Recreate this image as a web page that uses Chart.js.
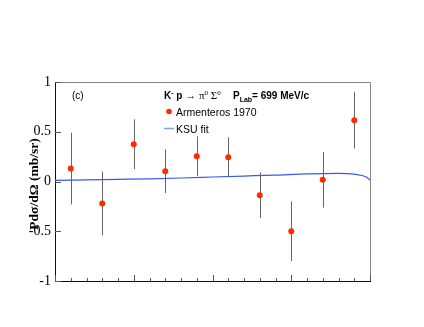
<!DOCTYPE html>
<html>
<head>
<meta charset="utf-8">
<script src="https://cdn.jsdelivr.net/npm/chart.js@4/dist/chart.umd.min.js"></script>
<style>
  html, body { margin: 0; padding: 0; background: #fff; }
  #wrap { width: 424px; height: 327px; }
</style>
</head>
<body>
<div id="wrap"><canvas id="c" width="424" height="327"></canvas></div>
<script>
// Armenteros 1970 data points (cos theta, P dsigma/dOmega, error)
const cosTheta = [-0.9, -0.7, -0.5, -0.3, -0.1, 0.1, 0.3, 0.5, 0.7, 0.9];
const polValues = [0.13, -0.22, 0.375, 0.104, 0.254, 0.244, -0.138, -0.5, 0.017, 0.616];
const polErrors = [0.36, 0.32, 0.25, 0.22, 0.2, 0.2, 0.23, 0.3, 0.28, 0.285];

// KSU fit curve
const fitX = [-1, -0.8, -0.6, -0.4, -0.2, 0, 0.2, 0.4, 0.6, 0.8, 0.9, 0.95, 0.98, 1.0];
const fitY = [0.012, 0.017, 0.022, 0.027, 0.035, 0.045, 0.055, 0.065, 0.077, 0.082, 0.075, 0.06, 0.042, 0.013];

const yTicks = [-1, -0.5, 0, 0.5, 1];

const serif = "'Liberation Serif', 'DejaVu Serif', serif";
const sans = "'Liberation Sans', Arial, sans-serif";

// error bars, inner ticks, frame and annotations
const decor = {
  id: "decor",
  beforeDatasetsDraw(chart) {
    const { ctx, chartArea: a, scales: { x, y } } = chart;
    ctx.save();
    // frame
    ctx.lineWidth = 1;
    ctx.strokeStyle = "#8a8080";
    ctx.beginPath();
    ctx.moveTo(a.left, a.top + 0.5);
    ctx.lineTo(a.right + 0.5, a.top + 0.5);
    ctx.lineTo(a.right + 0.5, a.bottom);
    ctx.stroke();
    ctx.strokeStyle = "#1a0a0a";
    ctx.beginPath();
    ctx.moveTo(a.left + 0.5, a.top);
    ctx.lineTo(a.left + 0.5, a.bottom + 0.5);
    ctx.lineTo(a.right + 1, a.bottom + 0.5);
    ctx.stroke();
    // x ticks (inside)
    ctx.strokeStyle = "#555";
    for (let i = -10; i <= 10; i++) {
      const px = Math.round(x.getPixelForValue(i / 10)) + 0.5;
      const len = i % 5 === 0 ? 6 : 3;
      ctx.beginPath();
      ctx.moveTo(px, a.bottom);
      ctx.lineTo(px, a.bottom - len);
      ctx.stroke();
    }
    // y ticks (inside)
    yTicks.forEach((v) => {
      const py = Math.round(y.getPixelForValue(v)) + 0.5;
      ctx.beginPath();
      ctx.moveTo(a.left, py);
      ctx.lineTo(a.left + 6, py);
      ctx.stroke();
    });
    // error bars
    ctx.strokeStyle = "#666";
    cosTheta.forEach((c, i) => {
      const px = Math.round(x.getPixelForValue(c)) + 0.5;
      ctx.beginPath();
      ctx.moveTo(px, y.getPixelForValue(polValues[i] + polErrors[i]));
      ctx.lineTo(px, y.getPixelForValue(polValues[i] - polErrors[i]));
      ctx.stroke();
    });
    ctx.restore();
  },
  afterDraw(chart) {
    const { ctx } = chart;
    ctx.save();
    ctx.fillStyle = "#000";
    ctx.textBaseline = "alphabetic";
    // (c)
    ctx.font = "10px " + sans;
    ctx.fillText("(c)", 72, 99);
    // header
    let cx = 164;
    const put = (t, font, dy) => {
      ctx.font = font;
      ctx.fillText(t, cx, 99 + (dy || 0));
      cx += ctx.measureText(t).width;
    };
    put("K", "bold 10px " + sans);
    put("-", "bold 7px " + sans, -4);
    put(" p ", "bold 10px " + sans);
    put("\u2192", "11px " + serif);
    put(" \u03c0", "11px " + serif);
    put("0", "7px " + serif, -4);
    put(" \u03a3", "11px " + serif);
    put("0", "7px " + serif, -4);
    cx = 233;
    put("P", "bold 10px " + sans);
    put("Lab", "bold 7px " + sans, 3);
    put("= 699 MeV/c", "bold 10px " + sans);
    // legend
    ctx.font = "10.5px " + sans;
    ctx.fillStyle = "#ff2a00";
    ctx.beginPath();
    ctx.arc(169, 111.5, 2.8, 0, Math.PI * 2);
    ctx.fill();
    ctx.fillStyle = "#000";
    ctx.fillText("Armenteros 1970", 176, 116);
    ctx.strokeStyle = "rgba(60,95,240,0.6)";
    ctx.lineWidth = 1.5;
    ctx.beginPath();
    ctx.moveTo(164, 128.5);
    ctx.lineTo(174, 128.5);
    ctx.stroke();
    ctx.fillText("KSU fit", 176, 133);
    // y title
    ctx.translate(38, 184);
    ctx.rotate(-Math.PI / 2);
    ctx.textAlign = "center";
    ctx.font = "bold 13.5px " + serif;
    ctx.fillText("Pd\u03c3/d\u03a9 (mb/sr)", 0, 0);
    ctx.restore();
  }
};

const ctx = document.getElementById("c").getContext("2d");
new Chart(ctx, {
  type: "scatter",
  data: {
    datasets: [
      {
        label: "Armenteros 1970",
        data: cosTheta.map((c, i) => ({ x: c, y: polValues[i] })),
        backgroundColor: "#ff2a00",
        borderColor: "#ff2a00",
        pointRadius: 3,
        pointBorderWidth: 0,
        order: 0,
      },
      {
        label: "KSU fit",
        type: "line",
        data: fitX.map((v, i) => ({ x: v, y: fitY[i] })),
        borderColor: "rgb(55,90,235)",
        borderWidth: 1.2,
        pointRadius: 0,
        cubicInterpolationMode: "monotone",
        fill: false,
        order: 1,
      },
    ],
  },
  options: {
    responsive: false,
    animation: false,
    events: [],
    layout: { padding: { left: 0, top: 82, right: 54, bottom: 46 } },
    plugins: { legend: { display: false }, tooltip: { enabled: false } },
    scales: {
      x: {
        type: "linear",
        min: -1,
        max: 1,
        grid: { display: false },
        border: { display: false },
        ticks: { display: false },
        afterFit(s) { s.height = 0; },
      },
      y: {
        type: "linear",
        min: -1,
        max: 1,
        afterBuildTicks(s) { s.ticks = yTicks.map((v) => ({ value: v })); },
        grid: { display: false, drawTicks: false },
        border: { display: false },
        ticks: {
          color: "#000",
          padding: 4,
          font: { family: serif, size: 14 },
          callback: (v) => String(v),
        },
        afterFit(s) { s.width = 55; },
      },
    },
  },
  plugins: [decor],
});
</script>
</body>
</html>
